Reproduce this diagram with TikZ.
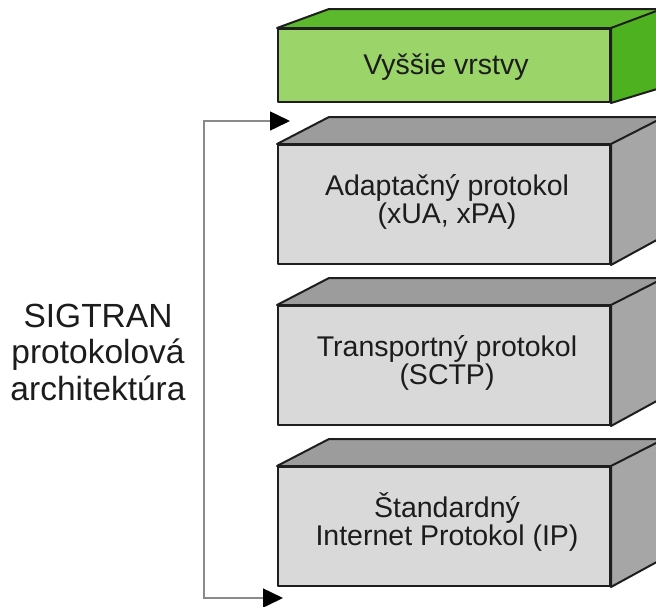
\documentclass[tikz,border=0pt]{standalone}
\usepackage{fontspec}
\setmainfont{Liberation Sans}
\usetikzlibrary{arrows.meta}
\definecolor{gfront}{HTML}{9BD56A}
\definecolor{gtop}{HTML}{5CB82C}
\definecolor{gright}{HTML}{4EB220}
\definecolor{kfront}{HTML}{D9D9D9}
\definecolor{ktop}{HTML}{9C9C9C}
\definecolor{kright}{HTML}{A6A6A6}
\definecolor{edge}{HTML}{1E1E1E}
\definecolor{txt}{HTML}{1C1C1C}
\definecolor{wire}{HTML}{8A8A8A}
\tikzset{
  face/.style={draw=edge, line width=2pt, line join=round},
  boxfront/.style={face, rectangle, minimum width=332pt, inner sep=0pt},
  boxtext/.style={text=txt, align=center, inner sep=0pt, anchor=base, font=\fontsize{28.5}{28}\selectfont},
  sidetext/.style={text=txt, align=center, inner sep=0pt, anchor=base, font=\fontsize{33.5}{36.5}\selectfont},
  wireline/.style={draw=wire, line width=1.5pt, {Triangle[length=20pt,width=19pt,color=black]}-{Triangle[length=20pt,width=19pt,color=black]}}
}
\begin{document}
\begin{tikzpicture}[x=1pt,y=-1pt]
\useasboundingbox (0,0) rectangle (656,606);
\clip (0,0) rectangle (656,606);
% green box
\node[boxfront, fill=gfront, minimum height=73pt] (upper) at (444,65.5) {};
\filldraw[face, fill=gtop] (upper.north west) -- ++(52,-19) -- ++(400,0) -- (upper.north east) -- cycle;
\filldraw[face, fill=gright] (upper.north east) -- ++(56,-21) -- ++(0,79) -- (upper.south east) -- cycle;
\node[boxtext] (upper-t) at (446,74) {Vyššie vrstvy};
% gray boxes
\foreach \nm/\cy/\tx in {adapt/204.5/{Adaptačný protokol\\(xUA, xPA)},
                         trans/365.5/{Transportný protokol\\(SCTP)},
                         ip/526.5/{Štandardný\\Internet Protokol (IP)}}{
  \node[boxfront, fill=kfront, minimum height=119pt] (\nm) at (444,\cy) {};
  \filldraw[face, fill=ktop] (\nm.north west) -- ++(52,-27) -- ++(400,0) -- (\nm.north east) -- cycle;
  \filldraw[face, fill=kright] (\nm.north east) -- ++(53,-27) -- ++(0,119) -- (\nm.south east) -- cycle;
  \node[boxtext] (\nm-t) at ([xshift=3pt,yshift=-19pt]\nm.center) {\tx};
}
% side label
\node[sidetext] (sig) at (98,400) {SIGTRAN\\protokolová\\architektúra};
% bracket connector
\coordinate (toptip) at (290,121);
\coordinate (topcorner) at (204,121);
\coordinate (botcorner) at (204,598);
\coordinate (bottip) at (283,598);
\draw[wireline] (toptip) -- (topcorner) -- (botcorner) -- (bottip);
\end{tikzpicture}
\end{document}
